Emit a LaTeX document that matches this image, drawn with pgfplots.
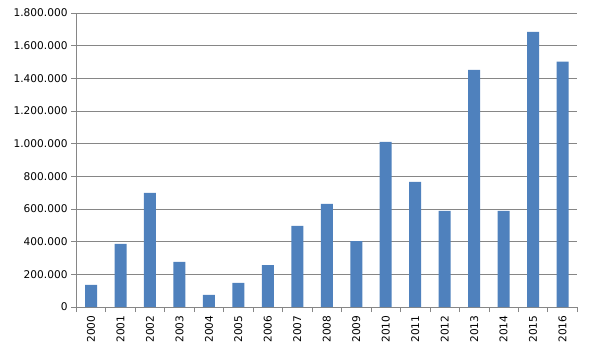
\documentclass[border=0pt]{standalone}
\usepackage{pgfplots}
\pgfplotsset{compat=1.18}
\usepackage{fontspec}
\setmainfont{DejaVu Sans}
\definecolor{barblue}{RGB}{79,129,189}
\definecolor{gridgray}{RGB}{134,134,134}
\begin{document}
\fontsize{10.6bp}{12bp}\selectfont
\begin{tikzpicture}
\useasboundingbox (-76.3bp,-44bp) rectangle (512.7bp,307bp);
\begin{axis}[
  at={(0,0)}, anchor=south west,
  scale only axis, width=501bp, height=294bp,
  ymin=0, ymax=1800000, xmin=-0.5, xmax=16.5,
  ytick={0,200000,400000,600000,800000,1000000,1200000,1400000,1600000,1800000},
  yticklabels={0,200.000,400.000,600.000,800.000,1.000.000,1.200.000,1.400.000,1.600.000,1.800.000},
  scaled y ticks=false,
  ymajorgrids, grid style={gridgray, line width=0.75bp},
  axis x line*=bottom, axis y line*=left,
  axis line style={gridgray, line width=0.75bp},
  tick align=outside, major tick length=5bp, minor tick length=5bp,
  tick style={gridgray, line width=0.75bp},
  xtick={0,...,16},
  xticklabels={2000,2001,2002,2003,2004,2005,2006,2007,2008,2009,2010,2011,2012,2013,2014,2015,2016},
  x tick label style={rotate=90, anchor=east},
  major x tick style={draw=none},
  minor xtick={-0.5,0.5,...,16.5},
  ybar, bar width=12bp,
]
\addplot[fill=barblue, draw=none] coordinates {
(0,135000) (1,386000) (2,699000) (3,276000) (4,73500) (5,147000) (6,257000)
(7,496000) (8,631000) (9,404000) (10,1011000) (11,766000) (12,588000)
(13,1452000) (14,588000) (15,1685000) (16,1502000)
};
\end{axis}
\end{tikzpicture}
\end{document}
